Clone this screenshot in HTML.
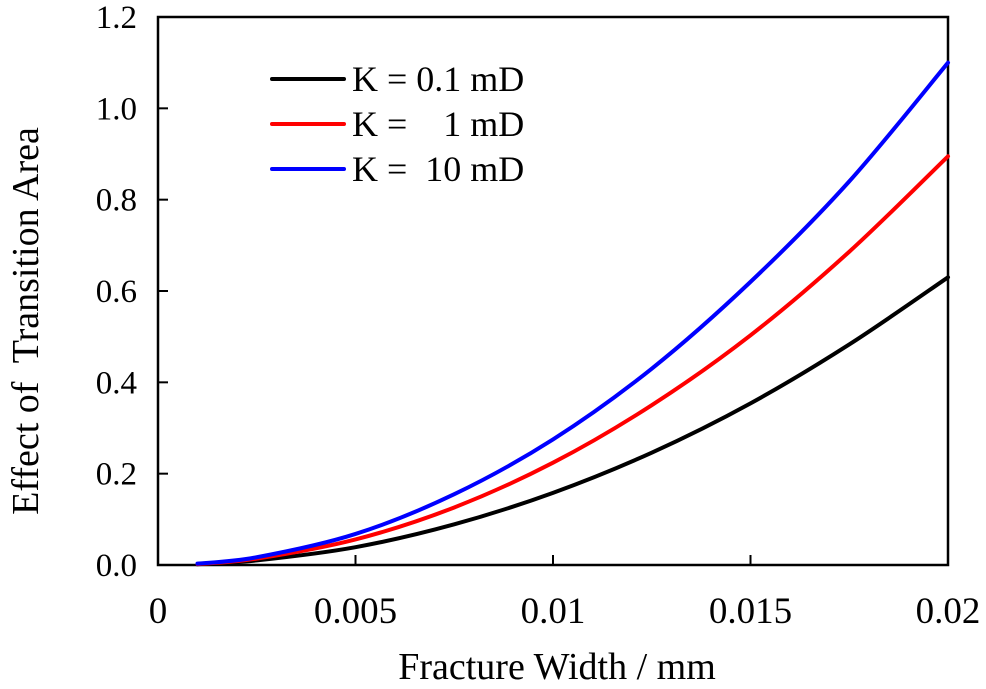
<!DOCTYPE html>
<html><head><meta charset="utf-8"><style>
body{margin:0;background:#fff;}
svg text{font-family:"Liberation Serif",serif;fill:#000;}
</style></head><body>
<svg id="chart" width="986" height="684">
<g id="plot"></g>
</svg>
<script>
const xs=[0.001,0.0025,0.005,0.0075,0.01,0.0125,0.015,0.0175,0.02];
const blueVals=[0.003,0.017,0.068,0.155,0.275,0.43,0.62,0.84,1.10];
const redVals=[0.002,0.014,0.056,0.126,0.224,0.35,0.503,0.686,0.895];
const blackVals=[0.0015,0.010,0.039,0.089,0.158,0.246,0.354,0.483,0.63];
const xTicks=[0,0.005,0.01,0.015,0.02];
const xTickLabels=["0","0.005","0.01","0.015","0.02"];
const yTicks=[0,0.2,0.4,0.6,0.8,1.0,1.2];
const yTickLabels=["0.0","0.2","0.4","0.6","0.8","1.0","1.2"];
const seriesNames=["K = 0.1 mD","K =    1 mD","K =  10 mD"];

const NS="http://www.w3.org/2000/svg";
const L=158,R=948,T=17,B=565;
const sx=v=>L+(v-0)/(0.02)*(R-L);
const sy=v=>B-(v/1.2)*(B-T);
const g=document.getElementById('plot');
function mk(tag,attrs){const e=document.createElementNS(NS,tag);for(const k in attrs)e.setAttribute(k,attrs[k]);g.appendChild(e);return e;}

const frame=mk('rect',{x:L,y:T,width:R-L,height:B-T,fill:'none',stroke:'#000','stroke-width':2.5});



xTicks.forEach((v,i)=>{
  const t=mk('line',{x1:sx(v),x2:sx(v),y1:B,y2:B-10,stroke:'#000','stroke-width':2});
  
  
  const tx=mk('text',{x:sx(v),y:623,'text-anchor':'middle','font-size':37});
  tx.textContent=xTickLabels[i];
  
  
});
yTicks.forEach((v,i)=>{
  const t=mk('line',{x1:L,x2:L+10,y1:sy(v),y2:sy(v),stroke:'#000','stroke-width':2});
  
  
  const tx=mk('text',{x:137,y:sy(v)+11,'text-anchor':'end','font-size':33});
  tx.textContent=yTickLabels[i];
  
  
});

function pathFor(vals){
  const p=xs.map((x,i)=>[sx(x),sy(vals[i])]);
  let d=`M${p[0][0]},${p[0][1]}`;
  for(let i=0;i<p.length-1;i++){
    const p0=p[i-1]||p[i],p1=p[i],p2=p[i+1],p3=p[i+2]||p2;
    const c1=[p1[0]+(p2[0]-p0[0])/6,p1[1]+(p2[1]-p0[1])/6];
    const c2=[p2[0]-(p3[0]-p1[0])/6,p2[1]-(p3[1]-p1[1])/6];
    d+=` C${c1[0]},${c1[1]} ${c2[0]},${c2[1]} ${p2[0]},${p2[1]}`;
  }
  return d;
}
const series=[[blackVals,'#000','series-k-0.1'],[redVals,'#f00','series-k-1'],[blueVals,'#00f','series-k-10']];
series.forEach(([vals,c,n])=>{
  const p=mk('path',{d:pathFor(vals),fill:'none',stroke:c,'stroke-width':4,'stroke-linecap':'round'});
  
  
});

const legendY=[79,124,169];
const legendC=['#000','#f00','#00f'];
legendY.forEach((y,i)=>{
  const l=mk('line',{x1:272,x2:344,y1:y,y2:y,stroke:legendC[i],'stroke-width':4,'stroke-linecap':'round'});
  
  
  const t=mk('text',{x:352,y:y+12,'font-size':36});
  t.setAttribute('xml:space','preserve');
  t.style.whiteSpace='pre';
  t.textContent=seriesNames[i];
  
  
});

const xt=mk('text',{x:557,y:679,'text-anchor':'middle','font-size':38});
xt.textContent='Fracture Width / mm';


const yt=mk('text',{x:0,y:0,'text-anchor':'middle','font-size':38,transform:`translate(38,321) rotate(-90)`});
yt.setAttribute('xml:space','preserve');
yt.style.whiteSpace='pre';
yt.textContent='Effect of  Transition Area';


</script>
</body></html>
